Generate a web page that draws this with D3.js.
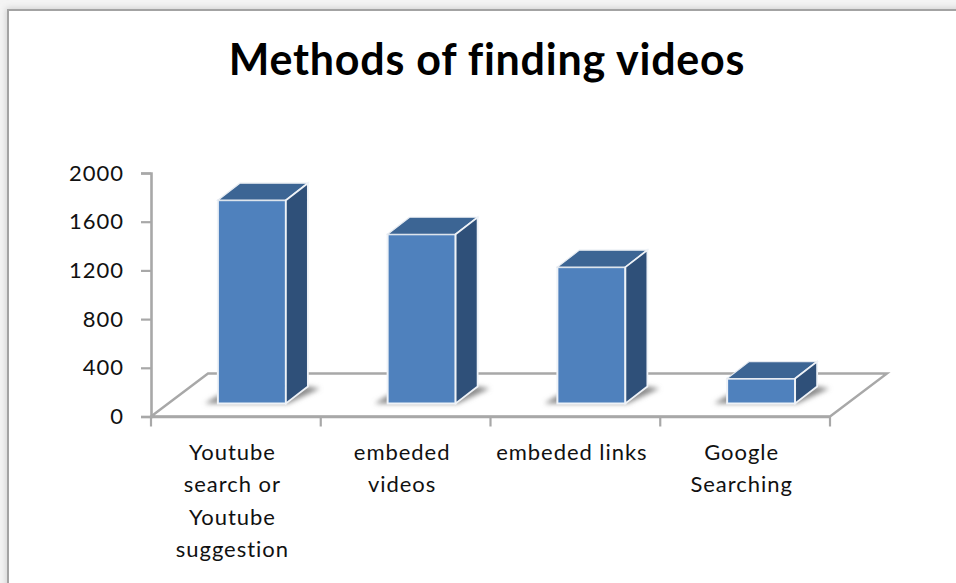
<!DOCTYPE html>
<html>
<head>
<meta charset="utf-8">
<script src="https://cdn.jsdelivr.net/npm/d3@7/dist/d3.min.js"></script>
<style>
  html, body { margin: 0; padding: 0; background: #fff; overflow: hidden; }
  svg { display: block; }
  text { font-family: Lato, "Open Sans", sans-serif; fill: #111; }
</style>
</head>
<body>
<svg id="chart" width="956" height="583"></svg>
<script>
const categories = ["Youtube search or Youtube suggestion", "embeded videos", "embeded links", "Google Searching"];
const categoryLines = [
  ["Youtube", "search or", "Youtube", "suggestion"],
  ["embeded", "videos"],
  ["embeded links"],
  ["Google", "Searching"]
];
const values = [1670, 1390, 1120, 205];
const yTicks = [0, 400, 800, 1200, 1600, 2000];
const titleText = "Methods of finding videos";

const svg = d3.select("#chart");
const defs = svg.append("defs");
defs.append("filter").attr("id", "soft").attr("x", "-30%").attr("y", "-60%").attr("width", "160%").attr("height", "220%")
  .append("feGaussianBlur").attr("stdDeviation", 2.6);
defs.append("filter").attr("id", "frameShade").attr("x", "-5%").attr("y", "-5%").attr("width", "110%").attr("height", "110%")
  .append("feGaussianBlur").attr("stdDeviation", 3);

// Frame of the chart area
svg.append("rect").attr("width", 956).attr("height", 583).attr("fill", "#f4f4f4");
svg.append("rect").attr("x", 6).attr("y", 8).attr("width", 960).attr("height", 590)
  .attr("fill", "#d0d0d0").attr("filter", "url(#frameShade)");
svg.append("rect").attr("x", 8).attr("y", 10).attr("width", 960).attr("height", 590)
  .attr("fill", "#fff").attr("stroke", "#a3a3a3").attr("stroke-width", 2);

svg.append("text").attr("x", 487).attr("y", 75).attr("text-anchor", "middle")
  .attr("font-size", 43).attr("font-weight", 700).style("fill", "#000").style("letter-spacing", "0.75px")
  .text(titleText);

// Scales for the front plane of the plot
const x = d3.scaleBand().domain(categories).range([151, 830]).paddingInner(0).paddingOuter(0);
const y = d3.scaleLinear().domain([0, 2000]).range([416.5, 173]);

// Oblique projection offsets
const floorDepth = { dx: 57, dy: -43 };
const barInset = { dx: 16, dy: -13 };
const barDepth = { dx: 22, dy: -17 };
const barWidth = 68;
const axisColor = "#a8a8a8";

const pts = a => a.map(p => p.join(",")).join(" ");

// Floor outline
const fx0 = x.range()[0], fx1 = x.range()[1], fy = y(0);
svg.append("polygon")
  .attr("points", pts([[fx0, fy], [fx0 + floorDepth.dx, fy + floorDepth.dy], [fx1 + floorDepth.dx, fy + floorDepth.dy], [fx1, fy]]))
  .attr("fill", "#fff").attr("stroke", axisColor).attr("stroke-width", 2.4);

// Axes
const yAxis = d3.axisLeft(y).tickValues(yTicks).tickSize(10).tickPadding(17).tickFormat(d3.format("d"));
const xAxis = d3.axisBottom(x).tickSize(0).tickFormat("");
const gy = svg.append("g").attr("transform", `translate(${fx0},0)`).call(yAxis);
const gx = svg.append("g").attr("transform", `translate(0,${fy})`).call(xAxis);
gy.selectAll("text").attr("font-size", 22).style("font-family", "Lato, sans-serif")
  .style("letter-spacing", "1px").attr("fill", "#111");
svg.selectAll("g .domain").attr("stroke", axisColor).attr("stroke-width", 2.6);
gy.selectAll("line").attr("stroke", axisColor).attr("stroke-width", 2.2);

// Category boundary ticks below the floor edge
const boundaries = categories.map(c => x(c)).concat(fx1);
svg.append("g").selectAll("line").data(boundaries).join("line")
  .attr("x1", d => d).attr("x2", d => d)
  .attr("y1", fy).attr("y2", fy + 10)
  .attr("stroke", axisColor).attr("stroke-width", 2.2);

// Bars
const bars = svg.append("g").selectAll("g").data(values.map((v, i) => ({ v, c: categories[i] }))).join("g");
const left = d => x(d.c) + x.bandwidth() / 2 - barWidth / 2 + barInset.dx;
const bottom = () => fy + barInset.dy;
const top_ = d => bottom() - (y(0) - y(d.v));

// Soft floor shadow behind each bar
bars.append("polygon")
  .attr("points", d => {
    const l = left(d), b = bottom(), r = l + barWidth;
    return pts([[l - 13, b], [r + 2, b], [r + barDepth.dx + 12, b + barDepth.dy + 2], [r + barDepth.dx, b + barDepth.dy], [l, b - 8]]);
  })
  .attr("fill", "#8a8a8a").attr("filter", "url(#soft)");

bars.append("rect")
  .attr("x", left).attr("y", top_)
  .attr("width", barWidth).attr("height", d => y(0) - y(d.v))
  .attr("fill", "#4f81bd").attr("stroke", "#eef2f7").attr("stroke-width", 2);
bars.append("polygon")
  .attr("points", d => {
    const l = left(d), r = l + barWidth, t = top_(d);
    return pts([[l, t], [r, t], [r + barDepth.dx, t + barDepth.dy], [l + barDepth.dx, t + barDepth.dy]]);
  })
  .attr("fill", "#3c6594").attr("stroke", "#e6ebf1").attr("stroke-width", 1.2);
bars.append("polygon")
  .attr("points", d => {
    const r = left(d) + barWidth, t = top_(d), b = bottom();
    return pts([[r, t], [r + barDepth.dx, t + barDepth.dy], [r + barDepth.dx, b + barDepth.dy], [r, b]]);
  })
  .attr("fill", "#2f5079").attr("stroke", "#eef2f7").attr("stroke-width", 1.8);

// Category labels, wrapped onto fixed lines
const labelGroups = svg.append("g").selectAll("text").data(categories).join("text")
  .attr("text-anchor", "middle").attr("font-size", 22).style("letter-spacing", "0.95px");
labelGroups.each(function (c, i) {
  d3.select(this).selectAll("tspan").data(categoryLines[i]).join("tspan")
    .attr("x", x(c) + x.bandwidth() / 2 - 3.5)
    .attr("y", (d, j) => 459.5 + j * 32.5)
    .text(d => d);
});
</script>
</body>
</html>
